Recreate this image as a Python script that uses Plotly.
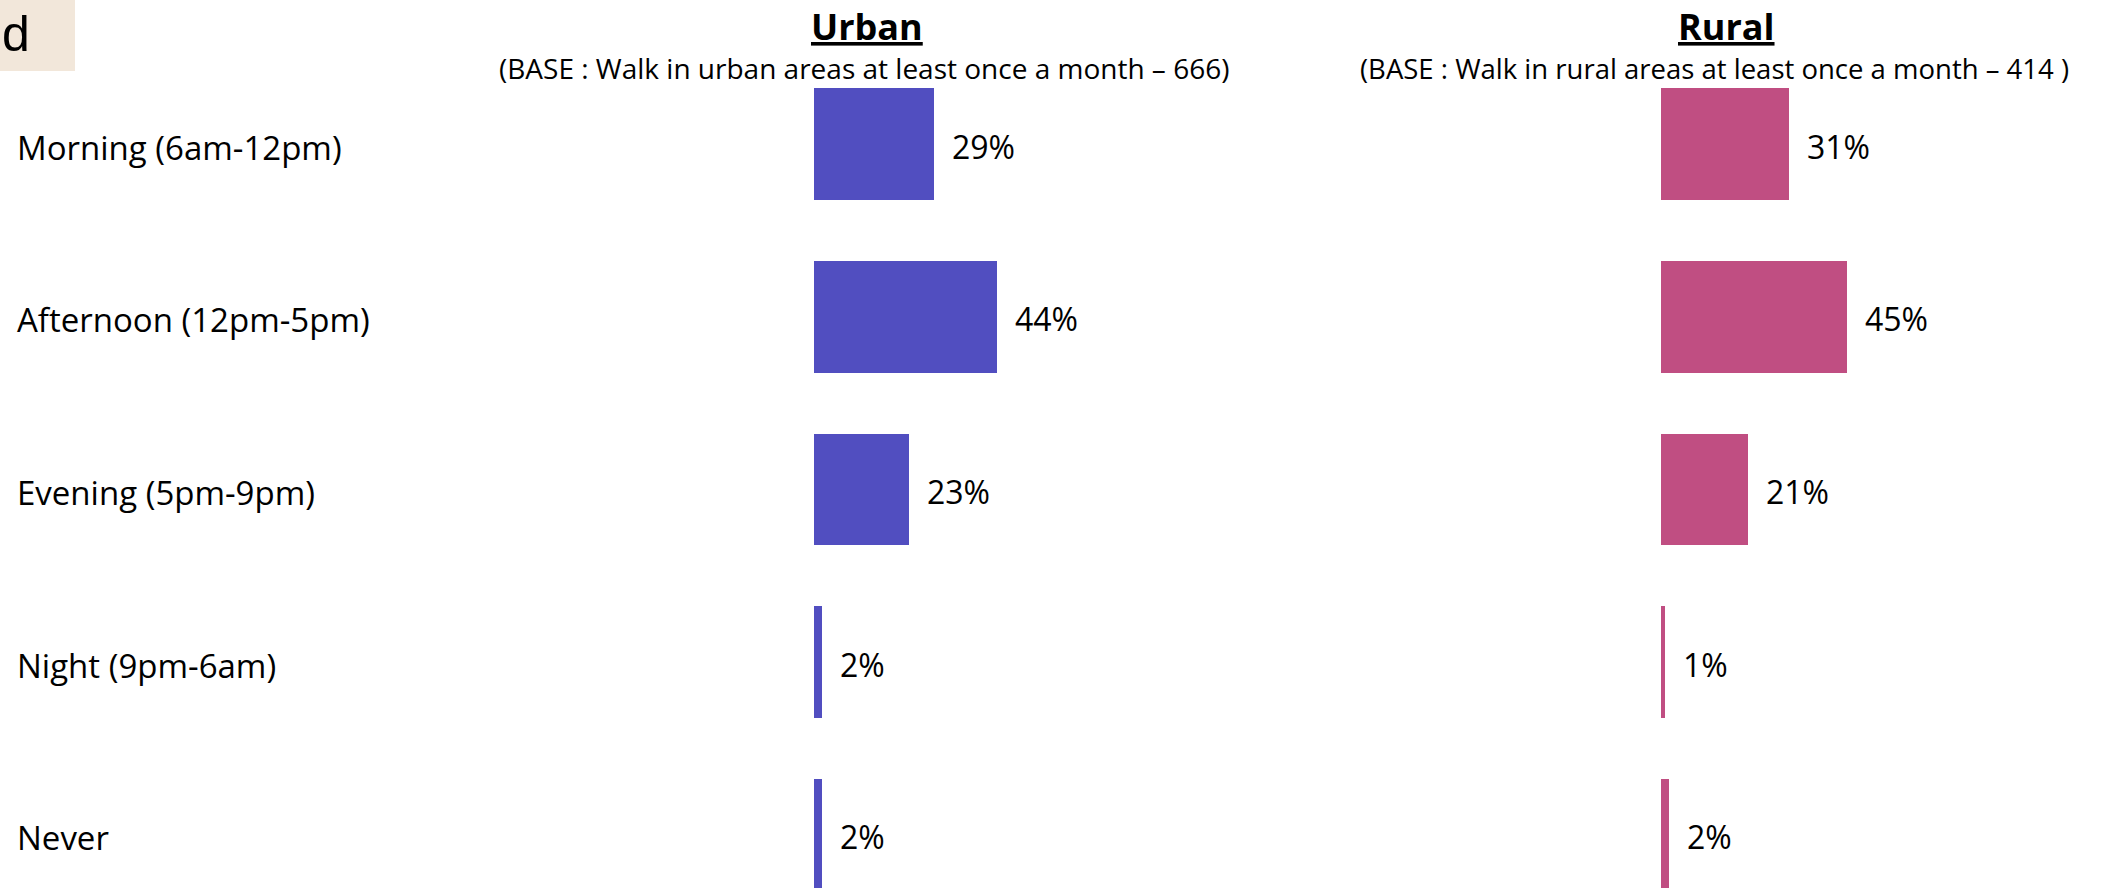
import plotly.graph_objects as go

# data
times = ["Morning (6am-12pm)", "Afternoon (12pm-5pm)", "Evening (5pm-9pm)",
         "Night (9pm-6am)", "Never"]
urban = [29, 44, 23, 2, 2]
rural = [31, 45, 21, 1, 2]
urban_title = "Urban"
urban_base = "(BASE : Walk in urban areas at least once a month \u2013 666)"
rural_title = "Rural"
rural_base = "(BASE : Walk in rural areas at least once a month \u2013 414 )"
panel_tag = "d"

W, H = 2106, 888
URBAN_COL = "#514EC0"
RURAL_COL = "#C04E82"
FONT = "Open Sans"

fig = go.Figure()
fig.add_trace(go.Bar(x=urban, y=times, orientation="h", xaxis="x", yaxis="y",
                     marker=dict(color=URBAN_COL, line_width=0), width=0.648,
                     hoverinfo="x+y"))
fig.add_trace(go.Bar(x=rural, y=times, orientation="h", xaxis="x2", yaxis="y",
                     marker=dict(color=RURAL_COL, line_width=0), width=0.648,
                     hoverinfo="x+y"))


def label(**kw):
    base = dict(showarrow=False, xanchor="center", yanchor="middle")
    base.update(kw)
    return base


ann = []
# value labels
for t, v in zip(times, urban):
    ann.append(label(x=v, y=t, xref="x", yref="y", text=f"{v}%", xanchor="left",
                     xshift=16, yshift=-2, font=dict(size=32, color="black")))
for t, v in zip(times, rural):
    ann.append(label(x=v, y=t, xref="x2", yref="y", text=f"{v}%", xanchor="left",
                     xshift=16, yshift=-2, font=dict(size=32, color="black")))
# category labels on the far left
for t in times:
    ann.append(label(x=15 / W, y=t, xref="paper", yref="y", text=t, xanchor="left",
                     yshift=-3, font=dict(size=33, color="black")))
# headers
ann += [
    label(x=867 / W, y=1 - 27 / H, xref="paper", yref="paper",
          text=f"<b><u>{urban_title}</u></b>", font=dict(size=36, color="black")),
    label(x=864 / W, y=1 - 68 / H, xref="paper", yref="paper", text=urban_base,
          font=dict(size=28, color="black")),
    label(x=1726 / W, y=1 - 27 / H, xref="paper", yref="paper",
          text=f"<b><u>{rural_title}</u></b>", font=dict(size=36, color="black")),
    label(x=1714 / W, y=1 - 68 / H, xref="paper", yref="paper", text=rural_base,
          font=dict(size=27.5, color="black")),
    label(x=0, y=1 - 34 / H, xref="paper", yref="paper", text=panel_tag,
          xanchor="left", font=dict(size=50, color="black", family="Liberation Sans")),
]

fig.update_layout(
    width=W, height=H,
    margin=dict(l=0, r=0, t=0, b=0),
    paper_bgcolor="white", plot_bgcolor="white",
    font=dict(family=FONT, color="black"),
    showlegend=False,
    bargap=0,
    xaxis=dict(domain=[814 / W, 1214 / W], range=[0, 400 / 4.15], visible=False,
               fixedrange=True),
    xaxis2=dict(domain=[1661 / W, 2061 / W], range=[0, 400 / 4.13], visible=False,
                fixedrange=True),
    yaxis=dict(type="category", categoryorder="array", categoryarray=times,
               range=[4.307, -0.834], visible=False, fixedrange=True),
    annotations=ann,
    shapes=[dict(type="rect", xref="paper", yref="paper", x0=0, x1=75 / W,
                 y0=1 - 71 / H, y1=1, fillcolor="#F2E7DA", line_width=0,
                 layer="below")],
)

# drop the default page margin so the figure sits at the window's corner
fig.write_html("out.html", config={"displayModeBar": False},
               post_script="document.body.style.margin='0';")
